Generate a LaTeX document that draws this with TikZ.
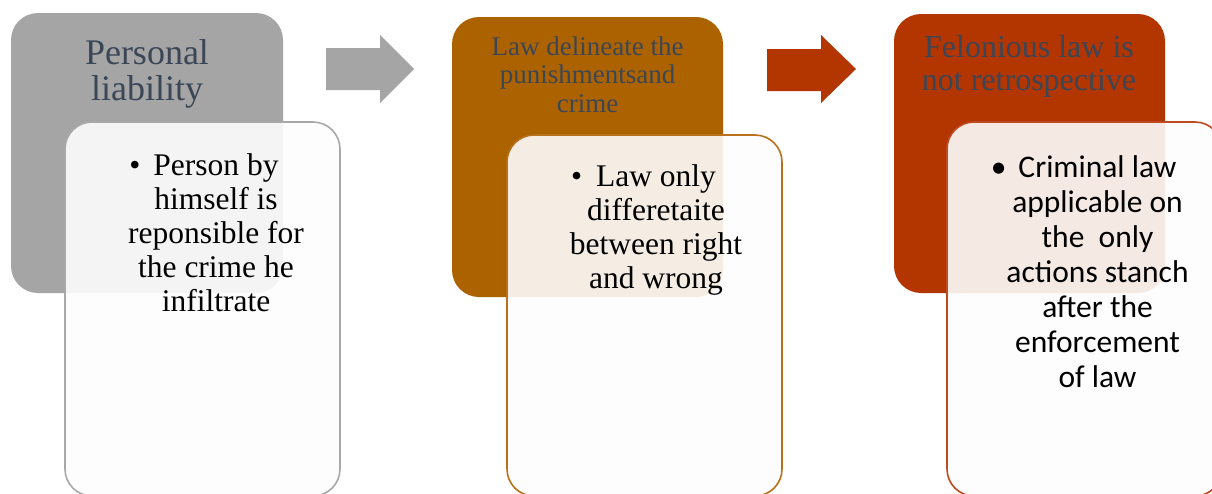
\documentclass[tikz,border=0pt]{standalone}
\usepackage{fontspec}
\setmainfont{Liberation Serif}
\newfontfamily\calibri{Carlito}
\definecolor{boxgray}{HTML}{A5A5A5}
\definecolor{boxorange}{HTML}{AD6200}
\definecolor{boxred}{HTML}{B33500}
\definecolor{headtext}{HTML}{3B4656}
\definecolor{linegray}{HTML}{A8A8A8}
\definecolor{lineorange}{HTML}{B8701A}
\definecolor{linered}{HTML}{C04A20}
\definecolor{innerfill}{HTML}{FDFDFD}
\begin{document}
\begin{tikzpicture}[x=1pt,y=-1pt,
  outerbox/.style={draw=none, rounded corners=27pt, anchor=north west, inner sep=0pt, outer sep=0pt},
  innerbox/.style={rounded corners=27pt, anchor=north west, fill=innerfill, fill opacity=0.9, line width=1.6pt, inner sep=0pt, outer sep=0pt},
  headtxt/.style={text=headtext, align=center, inner sep=0pt, anchor=base},
  bodytxt/.style={text=black, align=center, inner sep=0pt, anchor=base, font=\fontsize{31.5}{34}\selectfont},
  blockarrow/.style={draw=none}]
\useasboundingbox (0,0) rectangle (1212,493);
\clip (0,0) rectangle (1212,493);
\fill[white] (0,0) rectangle (1212,493);
% outer boxes
\node[outerbox, fill=boxgray, minimum width=272pt, minimum height=280pt] (o1) at (11,13) {};
\node[outerbox, fill=boxorange, minimum width=271pt, minimum height=280pt] (o2) at (452,17) {};
\node[outerbox, fill=boxred, minimum width=271pt, minimum height=279pt] (o3) at (894,14) {};
% block arrows
\fill[boxgray] (326,48) -- (380,48) -- (380,35) -- (414,69) -- (380,103) -- (380,90) -- (326,90) -- cycle;
\fill[boxred] (767,49) -- (821,49) -- (821,35) -- (856,69) -- (821,103) -- (821,91) -- (767,91) -- cycle;
% inner boxes
\node[innerbox, draw=linegray, minimum width=275pt, minimum height=374pt] (i1) at (65,122) {};
\node[innerbox, draw=lineorange, minimum width=275pt, minimum height=361pt] (i2) at (507,135) {};
\node[innerbox, draw=linered, minimum width=275pt, minimum height=374pt] (i3) at (947,122) {};
% headings (anchor = baseline of last line)
\node[headtxt, font=\fontsize{36}{36}\selectfont] (t1) at (147,100) {Personal\\liability};
\node[headtxt, font=\fontsize{27}{28.5}\selectfont] (t2) at (587.5,112) {Law delineate the\\punishmentsand\\crime};
\node[headtxt, font=\fontsize{32}{33}\selectfont] (t3) at (1029,90) {Felonious law is\\not retrospective};
% bodies
\node[bodytxt] (b1) at (216,311) {\llap{\textbullet\hspace{13pt}}Person by\\himself is\\reponsible for\\the crime he\\infiltrate};
\node[bodytxt] (b2) at (656,288) {\llap{\textbullet\hspace{14pt}}Law only\\differetaite\\between right\\and wrong};
\node[bodytxt, font=\calibri\fontsize{31.5}{35}\selectfont] (b3) at (1097.5,387) {\llap{\textbullet\hspace{12pt}}Criminal law\\applicable on\\the\ \ only\\actions stanch\\after the\\enforcement\\of law};
\end{tikzpicture}
\end{document}
